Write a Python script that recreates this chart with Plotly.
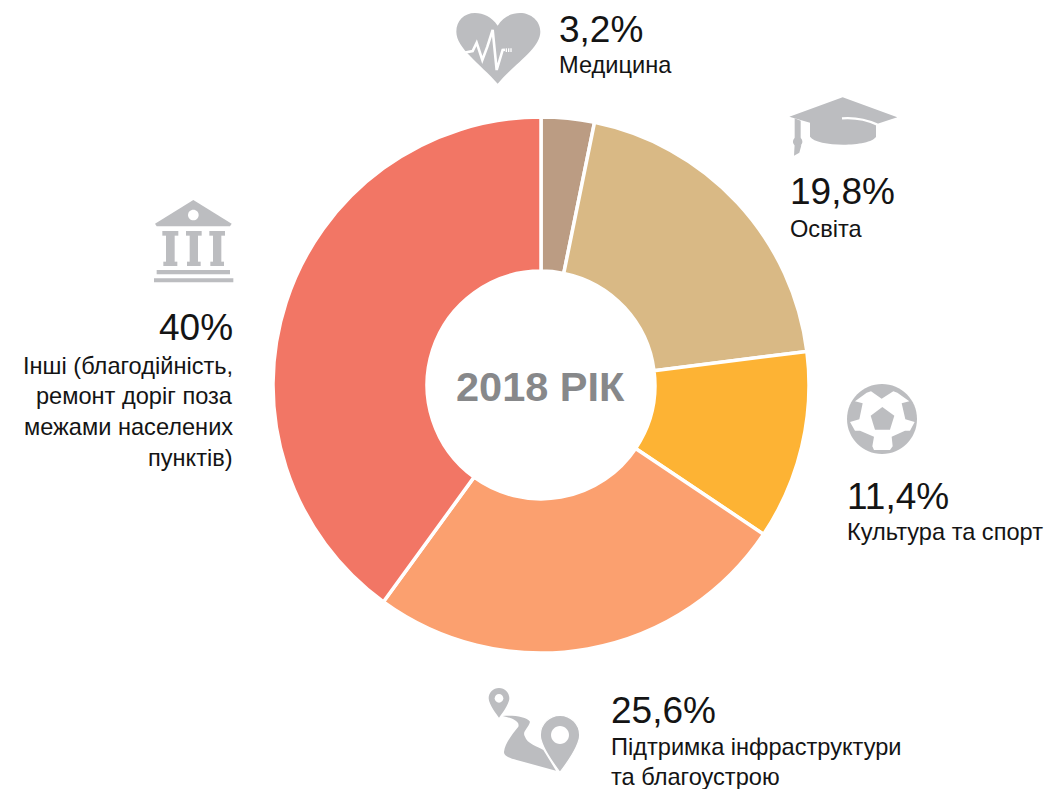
import re

import plotly.graph_objects as go

WIDTH, HEIGHT = 1045, 789

categories = ["Медицина", "Освіта", "Культура та спорт", "Підтримка інфраструктури та благоустрою", "Інші"]
values = [3.2, 19.8, 11.4, 25.6, 40]
colors = ["#bb9c83", "#d9b985", "#fdb334", "#fba06f", "#f27665"]
center_label = "2018 РІК"

value_labels = ["3,2%", "19,8%", "11,4%", "25,6%", "40%"]
label_lines = [
    ["Медицина"],
    ["Освіта"],
    ["Культура та спорт"],
    ["Підтримка інфраструктури", "та благоустрою"],
    ["Інші (благодійність,", "ремонт доріг поза", "межами населених", "пунктів)"],
]

ICON_GRAY = "#bcbdc0"
TEXT_COLOR = "#141414"
FONT = "Liberation Sans"


def px_x(x):
    return x / WIDTH


def px_y(y):
    return 1 - y / HEIGHT


def to_paper(d, ox=0, oy=0, scale=1.0):
    # path written in picture pixels (or a zoomed crop of them) -> paper coordinates
    is_x = [True]

    def repl(m):
        v = float(m.group(0))
        if is_x[0]:
            out = px_x(ox + v * scale)
        else:
            out = px_y(oy + v * scale)
        is_x[0] = not is_x[0]
        return f"{out:.5f}"

    return re.sub(r"-?\d+\.?\d*", repl, d)


def circle(cx, cy, r):
    k = 0.5523 * r
    return (
        f"M {cx - r} {cy} C {cx - r} {cy - k} {cx - k} {cy - r} {cx} {cy - r} "
        f"C {cx + k} {cy - r} {cx + r} {cy - k} {cx + r} {cy} "
        f"C {cx + r} {cy + k} {cx + k} {cy + r} {cx} {cy + r} "
        f"C {cx - k} {cy + r} {cx - r} {cy + k} {cx - r} {cy} Z"
    )


def pin(cx, cy, r, tip):
    k = 0.5523 * r
    return (
        f"M {cx - r} {cy} C {cx - r} {cy - k} {cx - k} {cy - r} {cx} {cy - r} "
        f"C {cx + k} {cy - r} {cx + r} {cy - k} {cx + r} {cy} "
        f"C {cx + r} {cy + 0.6 * r} {cx + 0.15 * r} {tip - 0.2 * r} {cx} {tip} "
        f"C {cx - 0.15 * r} {tip - 0.2 * r} {cx - r} {cy + 0.6 * r} {cx - r} {cy} Z"
    )


def rect(x0, y0, x1, y1):
    return f"M {x0} {y0} L {x1} {y0} L {x1} {y1} L {x0} {y1} Z"


shapes = []


def add_fill(d, ox=0, oy=0, scale=1.0, color=ICON_GRAY, line_color=None, line_width=0):
    shapes.append(dict(
        type="path", path=to_paper(d, ox, oy, scale), xref="paper", yref="paper",
        fillcolor=color, line=dict(color=line_color or color, width=line_width), layer="above",
    ))


def add_stroke(d, ox=0, oy=0, scale=1.0, color="white", width=2.0):
    shapes.append(dict(
        type="path", path=to_paper(d, ox, oy, scale), xref="paper", yref="paper",
        line=dict(color=color, width=width), layer="above",
    ))


# heart
add_fill(
    "M 143 62 C 125 35 100 24 75 24 C 42 24 19 48 19 80 C 19 130 90 175 143 236 "
    "C 195 175 271 130 271 80 C 271 48 243 24 210 24 C 185 24 160 35 143 62 Z",
    450, 5, 1 / 3,
)
add_stroke(
    "M 42 143 L 68 138 L 80 113 L 97 165 L 112 125 L 128 75 L 140 195 L 158 135 L 165 134",
    450, 5, 1 / 3, width=2.6,
)
for x0 in (167, 174, 181):
    add_fill(rect(x0, 130, x0 + 4, 141), 450, 5, 1 / 3, color="white")

# graduation cap
add_fill(
    "M 28 80 L 188 22 L 352 82 L 288 103 L 288 140 C 270 172 110 172 90 140 L 90 98 Z",
    780, 90, 1 / 3,
)
add_fill("M 44 85 L 62 92 L 62 145 L 44 145 Z", 780, 90, 1 / 3)
add_fill(circle(53, 155, 14), 780, 90, 1 / 3)
add_fill("M 44 162 L 64 166 L 58 188 L 42 197 Z", 780, 90, 1 / 3)
add_stroke("M 186 85 C 225 82 262 90 292 104", 780, 90, 1 / 3, width=2.4)

# building
add_fill("M 130 15 L 245 86 L 240 94 L 20 94 L 15 86 Z", 150, 195, 1 / 3)
add_fill(circle(130, 60, 16), 150, 195, 1 / 3, color="white")
for x0, x1 in ((37, 85), (108, 155), (178, 225)):
    add_fill(rect(x0, 108, x1, 122), 150, 195, 1 / 3)
    add_fill(rect(x0 + 11, 120, x1 - 11, 202), 150, 195, 1 / 3)
    add_fill(rect(x0 + 3, 200, x1 - 3, 213), 150, 195, 1 / 3)
add_fill(rect(20, 225, 240, 238), 150, 195, 1 / 3)
add_fill(rect(12, 250, 250, 262), 150, 195, 1 / 3)

# ball
add_fill(circle(126, 123, 105), 840, 378, 1 / 3)
add_fill(
    "M 93 40 L 125 62 L 160 40 L 172 44 L 208 70 L 185 76 L 196 124 L 224 132 L 210 158 "
    "L 195 158 L 155 176 L 158 205 L 150 216 L 102 216 L 97 205 L 102 176 L 60 158 "
    "L 45 158 L 30 132 L 58 124 L 68 76 L 45 70 L 80 44 Z",
    840, 378, 1 / 3, color="white",
)
add_fill("M 127 87 L 163 113 L 150 155 L 105 155 L 92 113 Z", 840, 378, 1 / 3)

# road and map pins
add_fill(
    "M 68 108 C 100 105 140 110 150 125 C 145 145 125 155 135 170 C 140 190 175 200 190 210 "
    "L 228 272 L 110 240 C 90 235 70 228 72 215 C 75 190 95 165 115 140 C 120 125 100 115 68 108 Z",
    480, 680, 1 / 3,
)
add_fill(pin(57, 55, 31, 113), 480, 680, 1 / 3)
add_fill(circle(57, 55, 13), 480, 680, 1 / 3, color="white")
add_fill(pin(240, 165, 59, 277), 480, 680, 1 / 3, line_color="white", line_width=1.2)
add_fill(circle(240, 165, 27), 480, 680, 1 / 3, color="white")


def add_text(annotations, text, x, y, size, anchor="left", bold=False, color=TEXT_COLOR):
    annotations.append(dict(
        text=f"<b>{text}</b>" if bold else text, xref="paper", yref="paper",
        x=px_x(x), y=px_y(y), xanchor=anchor, yanchor="middle", showarrow=False,
        font=dict(family=FONT, size=size, color=color),
        borderpad=0, borderwidth=0,
    ))


annotations = []
add_text(annotations, center_label, 540.5, 386, 41.5, anchor="center", bold=True, color="#87888a")

# x, y of the big number, then y of each text line
placements = [
    (559, 29, [65], "left"),
    (790, 192, [229], "left"),
    (847, 496, [532], "left"),
    (611, 710, [747, 777], "left"),
    (233, 328, [366, 396, 427, 458], "right"),
]
for value_label, lines, (x, y, line_ys, anchor) in zip(value_labels, label_lines, placements):
    add_text(annotations, value_label, x, y, 37, anchor=anchor)
    for line, line_y in zip(lines, line_ys):
        add_text(annotations, line, x, line_y, 23.6, anchor=anchor)

fig = go.Figure(go.Pie(
    labels=categories,
    values=values,
    marker=dict(colors=colors, line=dict(color="white", width=3.5)),
    hole=0.425,
    sort=False,
    direction="clockwise",
    rotation=0,
    textinfo="none",
    hoverinfo="label+percent",
    domain=dict(
        x=[px_x(273), px_x(809)],
        y=[px_y(653), px_y(117)],
    ),
))

fig.update_layout(
    width=WIDTH,
    height=HEIGHT,
    margin=dict(l=0, r=0, t=0, b=0),
    paper_bgcolor="white",
    showlegend=False,
    shapes=shapes,
    annotations=annotations,
)

fig.write_html(
    "out.html",
    config=dict(displayModeBar=False),
    post_script="document.body.style.margin='0';",
)
